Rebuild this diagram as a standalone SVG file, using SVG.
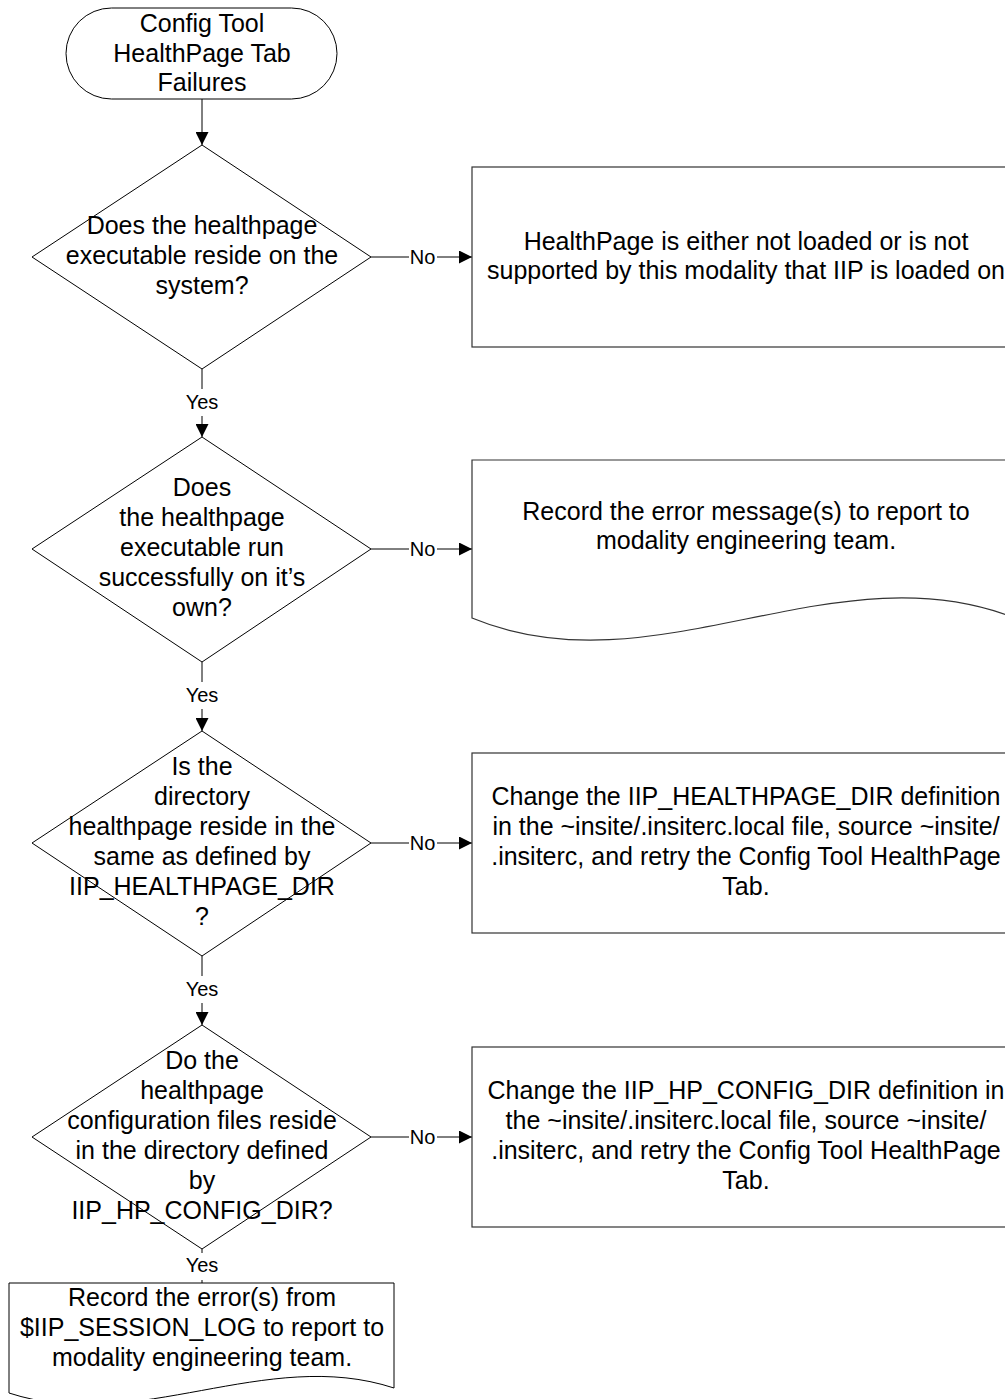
<svg xmlns="http://www.w3.org/2000/svg" width="1005" height="1399" viewBox="0 0 1005 1399">
  <style>
    .shape { fill: #ffffff; stroke: #000000; stroke-width: 1; }
    .box { fill: #ffffff; stroke: #333333; stroke-width: 1.2; }
    .t { font-family: "Liberation Sans", Arial, sans-serif; font-size: 25px; fill: #000000; text-anchor: middle; }
    .lbl { font-family: "Liberation Sans", Arial, sans-serif; font-size: 20px; fill: #000000; text-anchor: middle; }
    .wire { fill: none; stroke: #000000; stroke-width: 1; }
    .mask { fill: #ffffff; stroke: none; }
  </style>
  <defs>
    <marker id="arrow" markerUnits="userSpaceOnUse" markerWidth="13" markerHeight="13" refX="13" refY="6.5" orient="auto">
      <path d="M0,0 L13,6.5 L0,13 Z" fill="#000000"/>
    </marker>
  </defs>

  <rect width="1005" height="1399" fill="#ffffff"/>

  <!-- connectors -->
  <g id="connectors">
    <line class="wire" x1="202" y1="99" x2="202" y2="145" marker-end="url(#arrow)"/>

    <line class="wire" x1="202" y1="369" x2="202" y2="437" marker-end="url(#arrow)"/>
    <rect class="mask" x="184" y="389" width="36" height="27"/>
    <text class="lbl" x="202" y="409">Yes</text>

    <line class="wire" x1="202" y1="662" x2="202" y2="731" marker-end="url(#arrow)"/>
    <rect class="mask" x="184" y="682" width="36" height="27"/>
    <text class="lbl" x="202" y="702">Yes</text>

    <line class="wire" x1="202" y1="956" x2="202" y2="1025" marker-end="url(#arrow)"/>
    <rect class="mask" x="184" y="976" width="36" height="27"/>
    <text class="lbl" x="202" y="996">Yes</text>

    <line class="wire" x1="202" y1="1249" x2="202" y2="1283"/>
    <rect class="mask" x="184" y="1253" width="36" height="27"/>
    <text class="lbl" x="202" y="1272">Yes</text>

    <line class="wire" x1="371" y1="257" x2="472" y2="257" marker-end="url(#arrow)"/>
    <rect class="mask" x="409" y="246" width="28" height="22"/>
    <text class="lbl" x="422.5" y="264">No</text>

    <line class="wire" x1="371" y1="549" x2="472" y2="549" marker-end="url(#arrow)"/>
    <rect class="mask" x="409" y="538" width="28" height="22"/>
    <text class="lbl" x="422.5" y="556">No</text>

    <line class="wire" x1="371" y1="843" x2="472" y2="843" marker-end="url(#arrow)"/>
    <rect class="mask" x="409" y="832" width="28" height="22"/>
    <text class="lbl" x="422.5" y="850">No</text>

    <line class="wire" x1="371" y1="1137" x2="472" y2="1137" marker-end="url(#arrow)"/>
    <rect class="mask" x="409" y="1126" width="28" height="22"/>
    <text class="lbl" x="422.5" y="1144">No</text>
  </g>

  <!-- start terminator -->
  <g id="start">
    <rect class="shape" x="66" y="8" width="271" height="91" rx="45.5" ry="45.5"/>
    <text class="t" x="202" y="31.5">Config Tool</text>
    <text class="t" x="202" y="61.5">HealthPage Tab</text>
    <text class="t" x="202" y="91">Failures</text>
  </g>

  <!-- decision 1 -->
  <g id="q-executable-exists">
    <polygon class="shape" points="202,145 371,257 202,369 32,257"/>
    <text class="t" x="202" y="234">Does the healthpage</text>
    <text class="t" x="202" y="264">executable reside on the</text>
    <text class="t" x="202" y="294">system?</text>
  </g>

  <!-- decision 2 -->
  <g id="q-executable-runs">
    <polygon class="shape" points="202,437 371,549 202,662 32,549"/>
    <text class="t" x="202" y="496">Does</text>
    <text class="t" x="202" y="526">the healthpage</text>
    <text class="t" x="202" y="556">executable run</text>
    <text class="t" x="202" y="586">successfully on it’s</text>
    <text class="t" x="202" y="616">own?</text>
  </g>

  <!-- decision 3 -->
  <g id="q-healthpage-dir">
    <polygon class="shape" points="202,731 371,843 202,956 32,843"/>
    <text class="t" x="202" y="775">Is the</text>
    <text class="t" x="202" y="805">directory</text>
    <text class="t" x="202" y="835">healthpage reside in the</text>
    <text class="t" x="202" y="865">same as defined by</text>
    <text class="t" x="202" y="895">IIP_HEALTHPAGE_DIR</text>
    <text class="t" x="202" y="925">?</text>
  </g>

  <!-- decision 4 -->
  <g id="q-config-dir">
    <polygon class="shape" points="202,1025 371,1137 202,1249 32,1137"/>
    <text class="t" x="202" y="1069">Do the</text>
    <text class="t" x="202" y="1099">healthpage</text>
    <text class="t" x="202" y="1129">configuration files reside</text>
    <text class="t" x="202" y="1159">in the directory defined</text>
    <text class="t" x="202" y="1189">by</text>
    <text class="t" x="202" y="1219">IIP_HP_CONFIG_DIR?</text>
  </g>

  <!-- outcome: not installed -->
  <g id="not-supported">
    <rect class="box" x="472" y="167" width="548" height="180"/>
    <text class="t" x="746" y="250">HealthPage is either not loaded or is not</text>
    <text class="t" x="746" y="279">supported by this modality that IIP is loaded on</text>
  </g>

  <!-- outcome: record run errors -->
  <g id="record-run-errors">
    <path class="box" d="M472,618 V460 H1020 V620 C837,544 655,694 472,618 Z"/>
    <text class="t" x="746" y="520">Record the error message(s) to report to</text>
    <text class="t" x="746" y="549">modality engineering team.</text>
  </g>

  <!-- outcome: fix IIP_HEALTHPAGE_DIR -->
  <g id="fix-healthpage-dir">
    <rect class="box" x="472" y="753" width="548" height="180"/>
    <text class="t" x="746" y="805">Change the IIP_HEALTHPAGE_DIR definition</text>
    <text class="t" x="746" y="835">in the ~insite/.insiterc.local file, source ~insite/</text>
    <text class="t" x="746" y="865">.insiterc, and retry the Config Tool HealthPage</text>
    <text class="t" x="746" y="895">Tab.</text>
  </g>

  <!-- outcome: fix IIP_HP_CONFIG_DIR -->
  <g id="fix-config-dir">
    <rect class="box" x="472" y="1047" width="548" height="180"/>
    <text class="t" x="746" y="1099">Change the IIP_HP_CONFIG_DIR definition in</text>
    <text class="t" x="746" y="1129">the ~insite/.insiterc.local file, source ~insite/</text>
    <text class="t" x="746" y="1159">.insiterc, and retry the Config Tool HealthPage</text>
    <text class="t" x="746" y="1189">Tab.</text>
  </g>

  <!-- outcome: record session log errors -->
  <g id="record-session-log">
    <path class="shape" d="M9,1393 V1283 H394 V1388 C266,1346 137,1435 9,1393 Z"/>
    <text class="t" x="202" y="1306">Record the error(s) from</text>
    <text class="t" x="202" y="1336">$IIP_SESSION_LOG to report to</text>
    <text class="t" x="202" y="1366">modality engineering team.</text>
  </g>
</svg>
